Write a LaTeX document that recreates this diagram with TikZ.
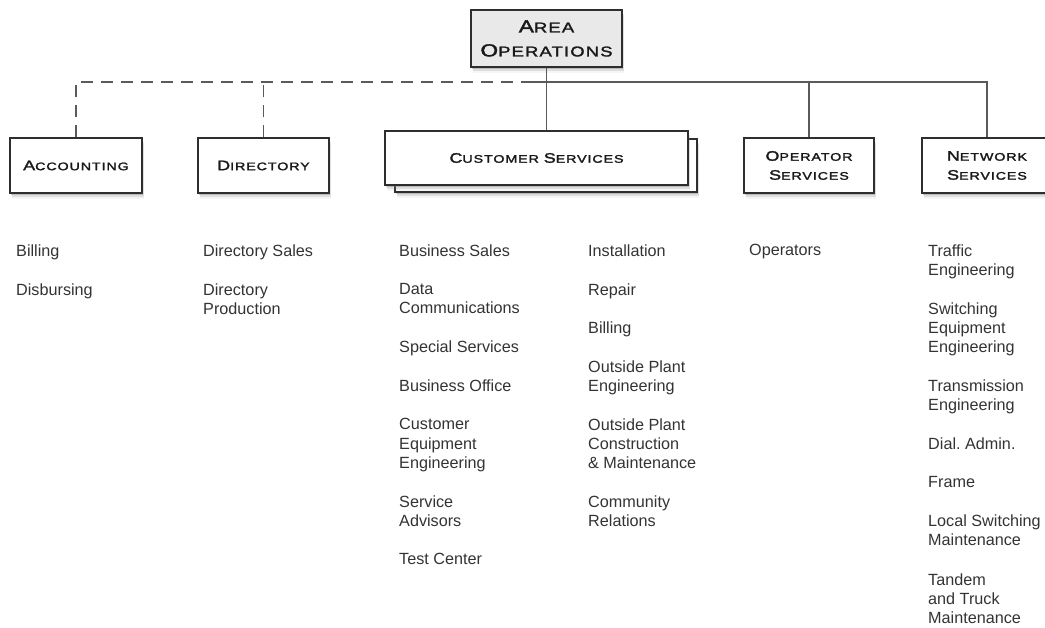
\documentclass[tikz,border=0pt]{standalone}
\usepackage{fontspec}
\setmainfont{Liberation Sans}
\newfontfamily\hdfont[FakeStretch=1.3,LetterSpace=8,FakeBold=2]{Liberation Sans}
\usetikzlibrary{shadows}
\definecolor{txt}{HTML}{333333}
\definecolor{ln}{HTML}{5A5A5A}
\definecolor{bx}{HTML}{2E2E2E}
\definecolor{areafill}{HTML}{E9E9E9}
\newcommand\capA[2]{{\fontsize{13.8}{19}\selectfont #1}{\fontsize{11}{19}\selectfont #2}}
\newcommand\capB[2]{{\fontsize{17.5}{24}\selectfont #1}{\fontsize{14.2}{24}\selectfont #2}}
\frenchspacing
\begin{document}
\begin{tikzpicture}[x=1pt,y=-1pt,
  box/.style={draw=bx, line width=1.3pt, fill=white, inner sep=0pt,
    minimum height=55pt, align=center, font=\hdfont\fontsize{11}{19}\selectfont, text=black!90,
    drop shadow={shadow xshift=0.5pt,shadow yshift=-2pt,opacity=.4},
    drop shadow={shadow xshift=1.5pt,shadow yshift=-4pt,opacity=.2},
    drop shadow={shadow xshift=2pt,shadow yshift=-6pt,opacity=.08}},
  item/.style={anchor=north west, inner sep=0pt, align=left,
    font=\fontsize{16.2}{19.3}\selectfont, text=txt},
  conn/.style={draw=ln, line width=1.2pt},
  dconn/.style={conn, dash pattern=on 12pt off 8pt}]
\useasboundingbox (0,0) rectangle (1045,628);

% boxes
\node[box, fill=areafill, minimum width=151pt, minimum height=57pt,
  font=\hdfont\fontsize{14}{24}\selectfont] (area) at (546.5,38.5) {\capB{A}{REA}\\\capB{O}{PERATIONS}};
\node[box, minimum width=132pt] (acc) at (76,165.5) {\capA{A}{CCOUNTING}};
\node[box, minimum width=131pt] (dir) at (263.5,165.5) {\capA{D}{IRECTORY}};
\node[box, minimum width=302pt, minimum height=53pt] (csback) at (546,165.5) {};
\node[box, minimum width=303pt, minimum height=54pt] (cs) at (536.5,158) {\capA{C}{USTOMER} \capA{S}{ERVICES}};
\node[box, minimum width=130pt] (op) at (809,165.5) {\capA{O}{PERATOR}\\\capA{S}{ERVICES}};
\node[box, minimum width=130pt] (net) at (987,165.5) {\capA{N}{ETWORK}\\\capA{S}{ERVICES}};

% connectors
\coordinate (split) at (533,82);
\draw[dconn] (acc.north) -- (acc.north |- split) -- (split);
\draw[dconn] (dir.north) -- (dir.north |- split);
\draw[conn] (area.south) -- (area.south |- cs.north);
\draw[conn] (split) -- (net.north |- split) -- (net.north);
\draw[conn] (op.north |- split) -- (op.north);

% items
\node[item] (a1) at (16,244.3) {Billing};
\node[item] (a2) at (16,283.3) {Disbursing};
\node[item] (d1) at (203,244.3) {Directory Sales};
\node[item] (d2) at (203,283.3) {Directory\\Production};
\node[item] (c1) at (399,244.3) {Business Sales};
\node[item] (c2) at (399,283.3) {Data\\Communications};
\node[item] (c3) at (399,340.3) {Special Services};
\node[item] (c4) at (399,379.3) {Business Office};
\node[item] (c5) at (399,418.3) {Customer\\Equipment\\Engineering};
\node[item] (c6) at (399,495.3) {Service\\Advisors};
\node[item] (c7) at (399,553.3) {Test Center};
\node[item] (e1) at (588,244.3) {Installation};
\node[item] (e2) at (588,283.3) {Repair};
\node[item] (e3) at (588,321.3) {Billing};
\node[item] (e4) at (588,360.3) {Outside Plant\\Engineering};
\node[item] (e5) at (588,418.3) {Outside Plant\\Construction\\\& Maintenance};
\node[item] (e6) at (588,495.3) {Community\\Relations};
\node[item] (o1) at (749,244.3) {Operators};
\node[item] (n1) at (928,244.3) {Traffic\\Engineering};
\node[item] (n2) at (928,302.3) {Switching\\Equipment\\Engineering};
\node[item] (n3) at (928,379.3) {Transmission\\Engineering};
\node[item] (n4) at (928,437.3) {Dial. Admin.};
\node[item] (n5) at (928,476.3) {Frame};
\node[item] (n6) at (928,514.3) {Local Switching\\Maintenance};
\node[item] (n7) at (928,573.3) {Tandem\\and Truck\\Maintenance};
\end{tikzpicture}
\end{document}
